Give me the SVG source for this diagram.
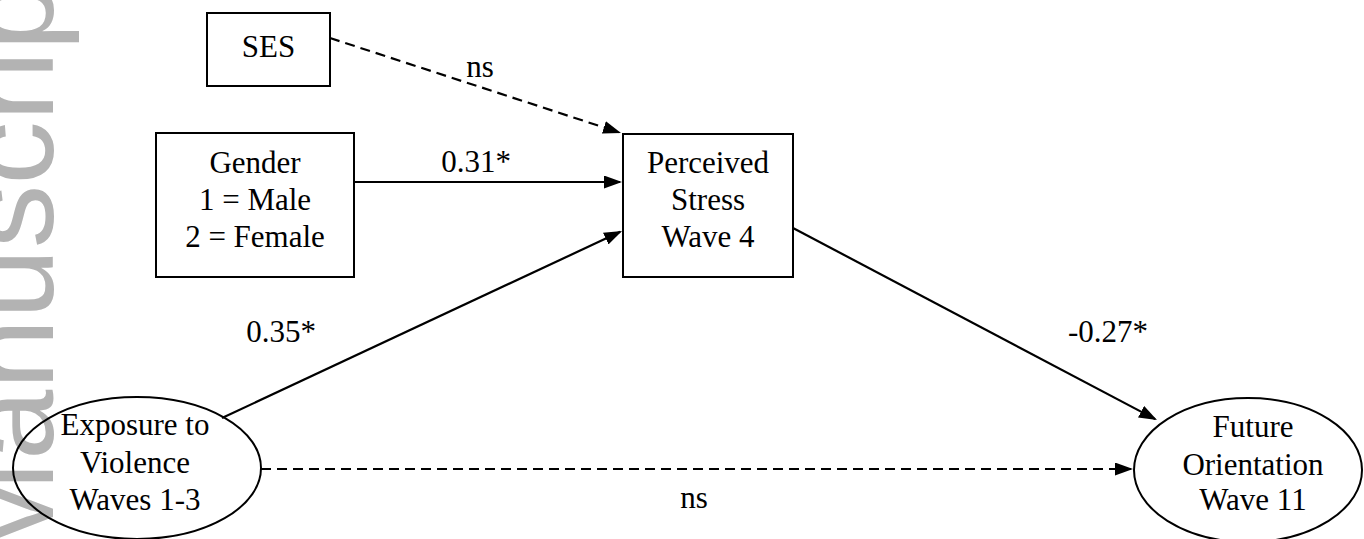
<svg xmlns="http://www.w3.org/2000/svg" width="1364" height="539" viewBox="0 0 1364 539">
<style>
.wm{font-family:"Liberation Sans",Arial,sans-serif;font-size:127px;fill:#b3b3b3}
.t{font-family:"Liberation Serif","Times New Roman",serif;font-size:31px;fill:#000;text-anchor:middle}
.box{fill:#fff;stroke:#000;stroke-width:2}
.c{fill:none;stroke:#000;stroke-width:2.2}
.d{stroke-dasharray:10 6}
</style>
<defs>
<marker id="ah" viewBox="0 0 18 13" refX="16" refY="6.5" markerWidth="18" markerHeight="13" markerUnits="userSpaceOnUse" orient="auto">
<path d="M0,0 L18,6.5 L0,13 z" fill="#000"/>
</marker>
</defs>
<rect width="1364" height="539" fill="#fff"/>
<text class="wm" transform="translate(53,566) rotate(-90)">Manuscript</text>
<g id="connectors">
<line class="c d" x1="330" y1="38" x2="619.1" y2="132.4" marker-end="url(#ah)"/>
<line class="c" x1="354" y1="182" x2="620" y2="182" marker-end="url(#ah)"/>
<line class="c" x1="222" y1="418" x2="620.2" y2="231.8" marker-end="url(#ah)"/>
<line class="c" x1="793" y1="228" x2="1155.2" y2="419.1" marker-end="url(#ah)"/>
<line class="c d" x1="261" y1="469" x2="1131" y2="469" marker-end="url(#ah)"/>
<text class="t" x="480" y="77">ns</text>
<text class="t" x="476" y="172">0.31*</text>
<text class="t" x="281" y="342">0.35*</text>
<text class="t" x="1108" y="342">-0.27*</text>
<text class="t" x="694" y="508">ns</text>
</g>
<g id="ses">
<rect class="box" x="207" y="13" width="123" height="73"/>
<text class="t" x="268.5" y="57">SES</text>
</g>
<g id="gender">
<rect class="box" x="156" y="133" width="198" height="144"/>
<text class="t" x="255" y="173">Gender</text>
<text class="t" x="255" y="210">1 = Male</text>
<text class="t" x="255" y="247">2 = Female</text>
</g>
<g id="stress">
<rect class="box" x="623" y="134" width="170" height="143"/>
<text class="t" x="708" y="173">Perceived</text>
<text class="t" x="708" y="210">Stress</text>
<text class="t" x="708" y="247">Wave 4</text>
</g>
<g id="exposure">
<ellipse cx="137" cy="468" rx="124" ry="71" fill="none" stroke="#000" stroke-width="2"/>
<text class="t" x="135" y="435">Exposure to</text>
<text class="t" x="135" y="473">Violence</text>
<text class="t" x="135" y="510">Waves 1-3</text>
</g>
<g id="future">
<ellipse cx="1248" cy="470" rx="114" ry="72" fill="#fff" stroke="#000" stroke-width="2"/>
<text class="t" x="1253" y="437">Future</text>
<text class="t" x="1253" y="475">Orientation</text>
<text class="t" x="1253" y="510">Wave 11</text>
</g>
</svg>
